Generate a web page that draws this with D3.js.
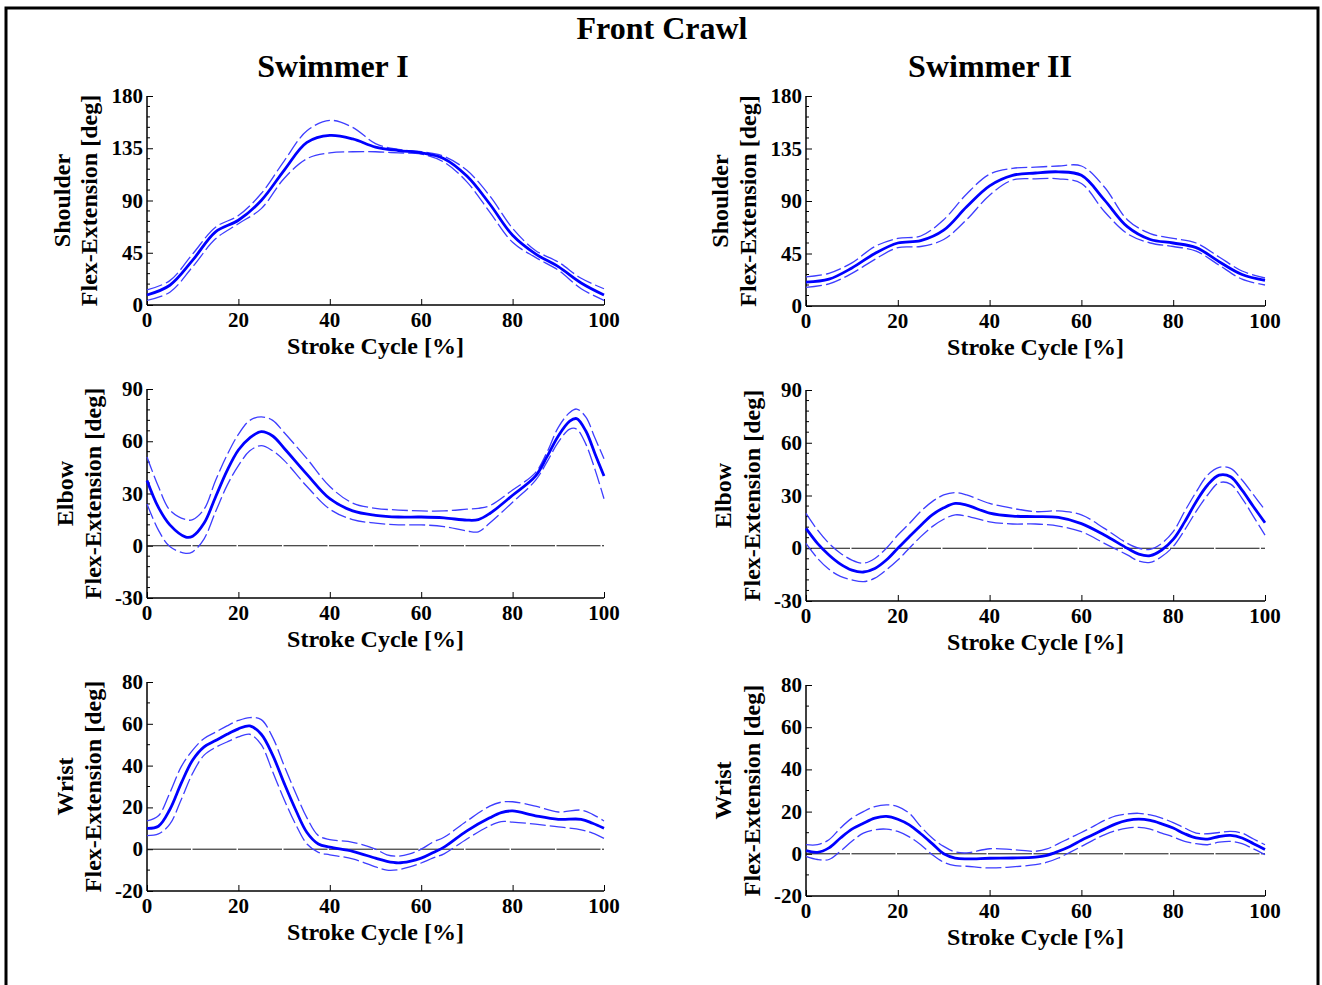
<!DOCTYPE html>
<html>
<head>
<meta charset="utf-8">
<script src="https://cdn.jsdelivr.net/npm/d3@7/dist/d3.min.js"></script>
<style>
  body { margin: 0; background: #fff; }
  text { font-family: "Liberation Serif", "Times New Roman", serif; font-weight: bold; fill: #000; }
</style>
</head>
<body>
<div id="chart"></div>
<script>
var title = "Front Crawl";
var swimmers = ["Swimmer I", "Swimmer II"];
var joints = ["Shoulder", "Elbow", "Wrist"];

// stroke cycle positions (%) and joint angles (deg): mean, upper and lower bound
var shoulderIX = [0,5,10,15,20,25,30,35,40,45,50,55,60,65,70,75,80,85,90,95,100];
var shoulderIMean = [8.6,17,38.6,63,73,90,116,140,146,143,136,133,131,126,111,87,60,44,33,19,8.6];
var shoulderIUp = [13,21,44,67,77,96,124,150,159,153,139,134,132,128,116,94,66,47,37,23,14];
var shoulderILo = [4,11,33,57,70,83,109,126,131,132,132,131,130,123,106,80,54,41,30,14,4];

var shoulderIIX = [0,5,10,15,20,25,30,35,40,45,50,55,60,65,70,75,80,85,90,95,100];
var shoulderIIMean = [20.4,23,32.6,45,54,56,65,85,103,112,114,115,112,91,68,57,54,50,38,27,22];
var shoulderIIUp = [25,28,37,51,58,60,74,96,113,118,119,120,120,102,74,62,58,54,42,30,24];
var shoulderIILo = [16,19,28,40,50,51,57,74,95,108,109,109,105,81,62,54,51,47,35,23,18];

var elbowIX = [0,2.5,5,8.5,10,12.5,15,17.5,20,22.5,25,27.5,30,35,40,45,50,55,60,65,70,72.5,75,80,85,87.5,90,92.5,94,96,98,100];
var elbowIMean = [37.5,22,12,5,5.5,13,28,43,55,62,65.5,63,56,41,27,20,17.5,16.5,16.5,16,14.7,15,18.5,29,40,51,63,71.5,73,66,53,40];
var elbowIUp = [51,34,20.5,15,15,21,37.5,52,64,72,74,72,65,50,34,24.5,21.5,20.5,20,20,21,21.5,23,32,42,53.5,68,76.5,78.5,74,62,50];
var elbowILo = [24,9,-0.5,-4.4,-3.5,4,19.5,34.5,46,54.5,57.5,54.5,49,34,21,15,13,12,12,11,8.5,8,13,25,37.5,48,59.5,67,67,58.5,44,27];

var elbowIIX = [0,2.5,5,7.5,10,12.5,15,17.5,20,22.5,25,27.5,30,32.5,35,40,45,50,55,60,65,70,72.5,75,77.5,80,82.5,85,87.5,90,92.5,95,97.5,100];
var elbowIIMean = [11.3,2.8,-3.8,-9,-12.4,-13.5,-11.5,-6.7,0,6.6,13,19,23,25.5,24.5,20,18.3,18,17.5,14,7.5,0,-3.3,-4.2,-1,5,15,26.5,36,41.6,40.7,33,23.6,14.5];
var elbowIIUp = [19.8,10.4,2.8,-2.8,-6.7,-8.5,-5.8,0,7.5,14,21,26.5,30.3,31.6,30.3,25.5,22.7,20.8,21.2,19,11.3,2.8,0,-0.6,2.8,9.4,21,32,41.6,46,45.4,38.8,30.3,21.8];
var elbowIILo = [2.8,-5.7,-12,-16,-18,-19,-17,-12.3,-6.7,0,6.6,12.3,16.5,19,18.3,15,13.8,13.8,12.6,9.4,2.8,-3.8,-7.3,-8,-4.7,1,10.4,21,30.3,37.3,36.5,28.4,18,7.5];

var wristIX = [0,2.5,5,7.5,10,12.5,15,17.5,20,22.5,25,27.5,30,32.5,35,37.5,40,45,50,52.5,55,57.5,60,62.5,65,70,75,77.5,80,85,90,95,97.5,100];
var wristIMean = [10,11,19,31.6,42.7,49,52,55,57.6,59,55,45,31.6,19,8,2.5,1,-1,-4.3,-5.8,-6.5,-5.8,-4.3,-1.7,1,8.8,15,17.5,18.3,16,14.3,14.3,12.4,10];
var wristIUp = [13.5,16,27,39.5,47.4,53,56,59,61.6,63,62,53.5,40,27,15,6.5,4.6,3.3,0,-2.7,-3.3,-2.2,0,3.3,5.7,13.5,20.6,22.5,22.7,20.6,17.8,18.7,16.7,13.5];
var wristILo = [6.5,7.3,12,23.8,36.4,45,48.7,51.3,53.7,55,50,37,23.8,12,2.5,-1.5,-2.7,-4.6,-8.5,-10,-9.8,-8.5,-6.6,-4.3,-2.2,4.9,11.2,13.2,13,12,10.7,9.3,7.7,5.2];

var wristIIX = [0,2.5,5,7.5,10,12.5,15,17.5,20,22.5,25,27.5,30,32.5,35,40,45,50,52.5,55,57.5,60,62.5,65,67.5,70,72.5,75,77.5,80,82.5,85,87.5,90,92.5,95,97.5,100];
var wristIIMean = [1.5,0.7,2.8,7.5,11.7,14.5,16.9,17.7,16.4,13.7,9.5,4.8,0,-2,-2.4,-2.1,-2,-1.6,-0.7,1.2,3.5,6.4,9,11.7,14.2,15.8,16.4,15.8,14.2,12.2,9.5,7.5,7,8.2,8.7,7.5,4.8,2];
var wristIIUp = [4.3,4.3,6.7,12.2,16.9,20,22.4,23.2,22.4,19.2,12.9,7.5,3.5,0.9,0.4,2.4,2,1.2,2.3,4.8,7.5,10.1,12.9,15.8,18,18.9,19.2,18.4,16.9,14.8,12.2,9.8,9.5,10.1,10.6,9.8,7,4.3];
var wristIILo = [-1.2,-2.7,-2.7,1.2,5.9,9.8,11.4,11.7,10.6,8,4.3,-0.4,-4,-5.6,-5.9,-6.7,-6.2,-5.1,-4,-2,0.7,3.5,6.4,9,11,12.2,12.5,11.7,9.8,8,5.9,4.8,4.3,5.5,5.9,4.8,2.3,-0.4];

var xTicks = [0,20,40,60,80,100];
var shoulderTicks = [0,45,90,135,180];
var elbowTicks = [-30,0,30,60,90];
var wristTicks = [-20,0,20,40,60,80];

var panels = [
  {col: 0, row: 0, x: shoulderIX, mean: shoulderIMean, up: shoulderIUp, lo: shoulderILo, ticks: shoulderTicks, minor: 9, zero: false},
  {col: 1, row: 0, x: shoulderIIX, mean: shoulderIIMean, up: shoulderIIUp, lo: shoulderIILo, ticks: shoulderTicks, minor: 9, zero: false},
  {col: 0, row: 1, x: elbowIX, mean: elbowIMean, up: elbowIUp, lo: elbowILo, ticks: elbowTicks, minor: 6, zero: true},
  {col: 1, row: 1, x: elbowIIX, mean: elbowIIMean, up: elbowIIUp, lo: elbowIILo, ticks: elbowTicks, minor: 6, zero: true},
  {col: 0, row: 2, x: wristIX, mean: wristIMean, up: wristIUp, lo: wristILo, ticks: wristTicks, minor: 10, zero: true},
  {col: 1, row: 2, x: wristIIX, mean: wristIIMean, up: wristIIUp, lo: wristIILo, ticks: wristTicks, minor: 10, zero: true}
];

// plot boxes in page pixels
var colX = [[147, 604], [806, 1265]];
var rowY = [[[96, 305], [96, 306]], [[389, 598], [390, 601]], [[682, 891], [685, 896]]];
var labelX = [[[62, 89], [720, 748]], [[65, 93], [723, 752]], [[65, 93], [723, 752]]];

var svg = d3.select("#chart").append("svg")
    .attr("width", 1322)
    .attr("height", 985);

svg.append("rect")
    .attr("x", 6).attr("y", 8)
    .attr("width", 1312).attr("height", 1000)
    .attr("fill", "none")
    .attr("stroke", "#000")
    .attr("stroke-width", 3);

svg.append("text")
    .attr("x", 662).attr("y", 39)
    .attr("text-anchor", "middle")
    .style("font-size", "32px")
    .text(title);

svg.selectAll(".swimmer")
    .data(swimmers)
    .enter().append("text")
    .attr("class", "swimmer")
    .attr("x", function(d, i) { return i == 0 ? 333 : 990; })
    .attr("y", 77)
    .attr("text-anchor", "middle")
    .style("font-size", "32px")
    .text(function(d) { return d; });

panels.forEach(function(p) {
  var xr = colX[p.col], yr = rowY[p.row][p.col];
  var ymin = p.ticks[0], ymax = p.ticks[p.ticks.length - 1];
  var x = d3.scaleLinear().domain([0, 100]).range(xr);
  var y = d3.scaleLinear().domain([ymin, ymax]).range([yr[1], yr[0]]);
  var g = svg.append("g");

  var minor = d3.range(ymin, ymax + 0.01, p.minor).filter(function(v) { return p.ticks.indexOf(v) < 0; });
  g.selectAll(".minor")
      .data(minor)
      .enter().append("line")
      .attr("x1", xr[0]).attr("x2", xr[0] + 3)
      .attr("y1", function(d) { return y(d); })
      .attr("y2", function(d) { return y(d); })
      .attr("stroke", "#000").attr("stroke-width", 1);

  var yAxis = g.append("g")
      .attr("transform", "translate(" + xr[0] + ",0)")
      .call(d3.axisRight(y).tickValues(p.ticks).tickSize(6).tickFormat(""));
  yAxis.select(".domain").attr("d", "M0," + yr[0] + "V" + yr[1]).attr("stroke-width", 1.5);

  var xAxis = g.append("g")
      .attr("transform", "translate(0," + yr[1] + ")")
      .call(d3.axisTop(x).tickValues(xTicks).tickSize(6).tickFormat(""));
  xAxis.select(".domain").attr("d", "M" + xr[0] + ",0H" + xr[1]).attr("stroke-width", 1.5);

  g.selectAll(".ylab")
      .data(p.ticks)
      .enter().append("text")
      .attr("x", xr[0] - 4)
      .attr("y", function(d) { return y(d) + 7; })
      .attr("text-anchor", "end")
      .style("font-size", "21px")
      .text(function(d) { return d; });

  g.selectAll(".xlab")
      .data(xTicks)
      .enter().append("text")
      .attr("x", function(d) { return x(d); })
      .attr("y", yr[1] + 22)
      .attr("text-anchor", "middle")
      .style("font-size", "21px")
      .text(function(d) { return d; });

  g.append("text")
      .attr("x", (xr[0] + xr[1]) / 2)
      .attr("y", yr[1] + 49)
      .attr("text-anchor", "middle")
      .style("font-size", "24px")
      .text("Stroke Cycle [%]");

  var lx = labelX[p.row][p.col], cy = (yr[0] + yr[1]) / 2;
  [joints[p.row], "Flex-Extension [deg]"].forEach(function(t, i) {
    g.append("text")
        .attr("transform", "translate(" + lx[i] + "," + cy + ") rotate(-90)")
        .attr("dy", "0.35em")
        .attr("text-anchor", "middle")
        .style("font-size", "24px")
        .text(t);
  });

  if (p.zero) {
    g.append("line")
        .attr("x1", xr[0]).attr("x2", xr[1])
        .attr("y1", y(0)).attr("y2", y(0))
        .attr("stroke", "#111").attr("stroke-width", 1)
        .attr("stroke-dasharray", "44,1.5");
  }

  var line = d3.line()
      .x(function(d) { return x(d[0]); })
      .y(function(d) { return y(d[1]); })
      .curve(d3.curveCatmullRom.alpha(0.5));

  [p.up, p.lo].forEach(function(s) {
    g.append("path")
        .datum(d3.zip(p.x, s))
        .attr("d", line)
        .attr("fill", "none")
        .attr("stroke", "#3d3dff")
        .attr("stroke-width", 1.3)
        .attr("stroke-dasharray", "16,4");
  });

  g.append("path")
      .datum(d3.zip(p.x, p.mean))
      .attr("d", line)
      .attr("fill", "none")
      .attr("stroke", "#0000ff")
      .attr("stroke-width", 2.8);
});
</script>
</body>
</html>
